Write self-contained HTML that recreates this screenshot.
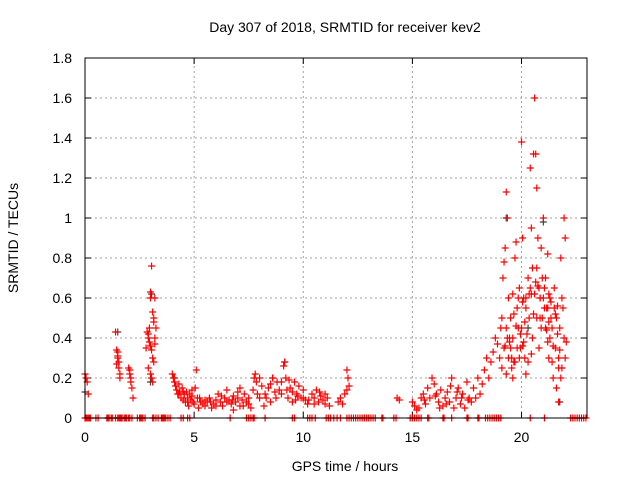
<!DOCTYPE html>
<html><head><meta charset="utf-8"><style>
html,body{margin:0;padding:0;background:#fff;}
svg text{font-family:"Liberation Sans",sans-serif;font-size:14px;fill:#000;}
</style></head><body>
<svg id="chart" width="640" height="480">
<text x="345" y="32" text-anchor="middle">Day 307 of 2018, SRMTID for receiver kev2</text>
<text x="345" y="471" text-anchor="middle">GPS time / hours</text>
<text transform="translate(18,238) rotate(-90)" text-anchor="middle">SRMTID / TECUs</text>
<g id="grid"></g>
<g id="ticks"></g>
<g id="gray"></g>
<g id="red"></g>
<rect x="85" y="58" width="502" height="360" fill="none" stroke="#000" stroke-width="1"/>
</svg>
<script>
const xTicks=[0,5,10,15,20];
const yTicks=[0,0.2,0.4,0.6,0.8,1,1.2,1.4,1.6,1.8];
const yTickLabels=["0","0.2","0.4","0.6","0.8","1","1.2","1.4","1.6","1.8"];
const redTimes=[0,0.05,0.1,0.15,1.4,1.45,1.5,1.5,1.55,1.55,1.6,1.6,1.45,1.5,2.0,2.05,2.1,2.1,2.15,2.2,2.05,
2.8,2.9,2.95,3.0,3.0,3.05,3.1,3.15,3.2,3.25,2.85,2.9,2.95,3.0,3.05,3.1,3.15,3.2,2.9,3.0,3.05,3.1,3.15,3.2,
4.0,4.05,4.1,4.15,4.2,4.25,4.3,4.35,4.4,4.45,4.5,4.55,4.6,4.65,4.7,4.75,4.8,4.85,4.9,4.95,5.0,5.05,5.1,5.15,5.2,5.3,5.4,5.5,5.6,5.7,5.8,5.9,6.0,6.1,6.2,6.3,6.4,6.5,6.6,6.7,6.8,6.9,7.0,7.1,7.2,7.3,7.4,7.5,7.6,7.7,7.75,7.8,7.85,7.9,8.0,8.1,8.2,8.3,8.4,8.5,8.6,8.7,8.8,8.9,9.0,9.1,9.15,9.2,9.3,9.4,9.5,9.6,9.7,9.8,9.9,10.0,10.1,10.2,10.4,10.5,10.6,10.7,10.8,10.9,11.0,11.1,11.2,11.6,11.7,11.8,11.9,12.0,12.05,12.1,12.0,
4.1,4.3,4.5,4.7,4.9,5.5,6.0,6.5,7.0,7.5,8.0,8.5,9.0,9.5,10.0,10.5,11.0,5.25,5.75,6.25,6.75,7.25,8.25,8.75,9.25,9.75,10.25,10.75,6.8,7.1,8.6,9.35,9.65,
14.3,14.4,15.0,15.1,15.2,15.3,15.4,15.5,15.6,15.7,15.8,15.9,16.0,16.1,16.2,16.3,16.4,16.5,16.6,16.7,16.8,16.9,17.0,17.1,17.2,17.3,17.4,17.5,17.6,17.7,17.8,17.9,18.0,18.1,18.2,18.3,18.4,18.5,18.6,18.7,18.8,18.9,15.55,16.05,16.55,17.05,17.55,16.25,16.75,17.25,
19.0,19.05,19.1,19.15,19.2,19.25,19.3,19.35,19.4,19.45,19.5,19.55,19.6,19.7,19.75,19.8,19.85,19.9,19.95,20.0,20.05,20.1,20.15,20.2,20.3,20.35,20.4,20.45,20.5,20.55,20.6,20.65,20.7,20.75,20.8,20.85,20.9,20.95,21.0,21.05,21.1,21.15,21.2,21.25,21.3,21.35,21.4,21.45,21.5,21.55,21.6,21.7,21.75,21.8,21.85,21.9,21.95,22.0,22.05,21.95,22.0,
19.1,19.2,19.3,19.4,19.5,19.6,19.7,19.8,19.9,20.0,20.1,20.2,20.3,20.4,20.5,20.6,20.7,20.8,20.9,21.0,21.1,21.2,21.3,21.4,21.5,21.6,21.7,21.8,19.3,19.6,20.2,20.7,21.2,21.7,19.45,19.65,19.85,20.05,20.25,20.45,20.65,20.85,21.05,21.25,21.45,21.65,21.85,
19.35,19.55,19.75,19.95,20.15,20.35,20.55,20.75,20.95,21.15,21.35,21.55,21.75,19.25,19.65,20.05,20.45,20.85,21.25,21.65];
const redValues=[0.22,0.2,0.18,0.12,0.43,0.34,0.33,0.3,0.28,0.25,0.22,0.2,0.27,0.31,0.25,0.22,0.2,0.18,0.15,0.1,0.24,
0.35,0.4,0.45,0.63,0.6,0.76,0.53,0.5,0.6,0.45,0.43,0.42,0.38,0.36,0.34,0.3,0.28,0.4,0.25,0.22,0.2,0.18,0.48,0.37,
0.22,0.2,0.18,0.16,0.14,0.12,0.17,0.13,0.1,0.15,0.09,0.12,0.08,0.13,0.1,0.06,0.12,0.09,0.11,0.08,0.07,0.15,0.24,0.1,0.05,0.08,0.07,0.06,0.08,0.1,0.05,0.07,0.09,0.12,0.08,0.06,0.1,0.14,0.09,0.07,0.11,0.08,0.1,0.06,0.09,0.12,0.08,0.1,0.05,0.14,0.2,0.22,0.18,0.12,0.2,0.16,0.06,0.1,0.15,0.17,0.2,0.13,0.18,0.14,0.12,0.26,0.28,0.2,0.1,0.15,0.08,0.18,0.12,0.16,0.1,0.14,0.09,0.07,0.12,0.1,0.14,0.08,0.11,0.09,0.07,0.1,0.06,0.08,0.1,0.07,0.12,0.24,0.2,0.16,0.14,
0.2,0.12,0.13,0.08,0.14,0.09,0.06,0.08,0.13,0.07,0.1,0.08,0.18,0.13,0.1,0.07,0.12,0.1,0.08,0.11,0.09,0.06,0.12,0.1,0.14,0.11,0.09,0.13,0.04,0.15,0.2,0.19,0.09,
0.1,0.09,0.08,0.06,0.04,0.05,0.1,0.12,0.07,0.15,0.1,0.2,0.17,0.12,0.08,0.14,0.06,0.1,0.13,0.08,0.2,0.05,0.1,0.15,0.07,0.12,0.05,0.18,0.1,0.08,0.15,0.1,0.2,0.12,0.17,0.24,0.3,0.2,0.28,0.33,0.4,0.37,0.09,0.11,0.07,0.13,0.09,0.05,0.16,0.1,
0.3,0.45,0.5,0.7,0.78,0.85,1.13,1.0,0.6,0.4,0.35,0.25,0.2,0.8,0.88,0.55,0.45,0.65,0.42,1.38,0.9,0.6,0.3,0.55,0.7,0.5,1.25,0.95,0.75,1.32,1.6,1.32,1.15,0.9,0.65,0.6,0.85,0.7,1.0,0.65,0.45,0.55,0.38,0.3,0.6,0.5,0.28,0.2,0.65,0.35,0.15,0.25,0.45,0.8,0.6,0.55,0.4,0.3,0.38,1.0,0.9,
0.25,0.35,0.45,0.3,0.5,0.4,0.28,0.35,0.3,0.45,0.38,0.6,0.28,0.65,0.4,0.62,0.5,0.35,0.45,0.6,0.7,0.55,0.4,0.45,0.55,0.5,0.3,0.2,0.22,0.62,0.22,0.75,0.82,0.08,0.38,0.52,0.6,0.58,0.42,0.32,0.68,0.5,0.55,0.48,0.36,0.42,0.25,
0.4,0.3,0.46,0.35,0.48,0.62,0.52,0.66,0.5,0.44,0.58,0.52,0.34,0.36,0.28,0.36,0.62,0.6,0.62,0.56];
const zeroTimes=[0,0.05,0.1,0.15,0.2,0.25,0.5,0.6,1.0,1.05,1.1,1.2,1.25,1.4,1.5,1.55,1.6,1.65,1.7,1.8,1.85,1.9,2.0,2.05,2.15,2.4,2.5,2.55,2.6,2.65,2.75,3.1,3.15,3.25,3.35,3.5,3.55,3.6,3.65,3.7,3.8,3.9,4.4,4.5,4.7,4.8,6.65,7.4,7.5,7.6,7.7,7.75,8.25,9.5,9.6,10.2,10.3,10.4,10.55,11.05,11.15,11.25,11.4,11.55,11.7,12.0,12.1,12.2,12.3,12.4,12.5,12.6,12.7,12.8,12.9,13.0,13.1,13.2,13.3,
13.6,13.65,14.15,14.25,14.9,15.0,15.1,15.2,15.3,15.4,15.7,15.75,16.4,16.45,16.8,17.5,17.55,18.0,18.05,18.35,18.45,18.55,18.65,18.75,18.85,18.95,19.05,20.4,21.05,22.25,22.35,22.45,22.55,22.65,22.75,22.85,22.95];
const grayTimes=[0.0,1.5,3.0,19.3,21.0,21.75,20.3,3.05,9.15];
const grayValues=[0.13,0.43,0.18,1.0,0.98,0.08,0.45,0.62,0.28];

const X0=85,X1=587,Y0=418,Y1=58,XMAX=23,YMAX=1.8;
function sx(t){return X0+(X1-X0)*t/XMAX;}
function sy(v){return Y0-(Y0-Y1)*v/YMAX;}
const NS="http://www.w3.org/2000/svg";
function mk(tag,attrs,parent){const e=document.createElementNS(NS,tag);for(const k in attrs)e.setAttribute(k,attrs[k]);parent.appendChild(e);return e;}
const grid=document.getElementById('grid'),ticks=document.getElementById('ticks');
yTicks.forEach((v,i)=>{
  const y=sy(v);
  if(i>0&&i<yTicks.length-1){
    const g=mk('line',{x1:X0,x2:X1,y1:y,y2:y,stroke:'#a0a0a0','stroke-dasharray':'2,3'},grid);
    
    
  }
  mk('line',{x1:X0,x2:X0+6,y1:y,y2:y,stroke:'#000'},ticks);
  mk('line',{x1:X1,x2:X1-6,y1:y,y2:y,stroke:'#000'},ticks);
  const t=mk('text',{x:X0-13,y:y+5,'text-anchor':'end'},ticks);
  t.textContent=yTickLabels[i];
  
  
});
xTicks.forEach(v=>{
  const x=sx(v);
  if(v>0){
    const g=mk('line',{x1:x,x2:x,y1:Y0,y2:Y1,stroke:'#a0a0a0','stroke-dasharray':'2,3'},grid);
    
    
  }
  mk('line',{x1:x,x2:x,y1:Y0,y2:Y0-6,stroke:'#000'},ticks);
  mk('line',{x1:x,x2:x,y1:Y1,y2:Y1+6,stroke:'#000'},ticks);
  const t=mk('text',{x:x,y:Y0+24,'text-anchor':'middle'},ticks);
  t.textContent=String(v);
  
  
});
function plus(t,v,color,parent){
  const x=sx(t),y=sy(v);
  const p=mk('path',{d:`M${x-3.5},${y}H${x+3.5}M${x},${y-3.5}V${y+3.5}`,stroke:color,'stroke-width':1.2,fill:'none'},parent);
  
  
}
const gray=document.getElementById('gray'),red=document.getElementById('red');
grayTimes.forEach((t,i)=>plus(t,grayValues[i],'#404040',gray));
redTimes.forEach((t,i)=>plus(t,redValues[i],'#ff0000',red));
zeroTimes.forEach(t=>plus(t,0,'#ff0000',red));
</script>
</body></html>
